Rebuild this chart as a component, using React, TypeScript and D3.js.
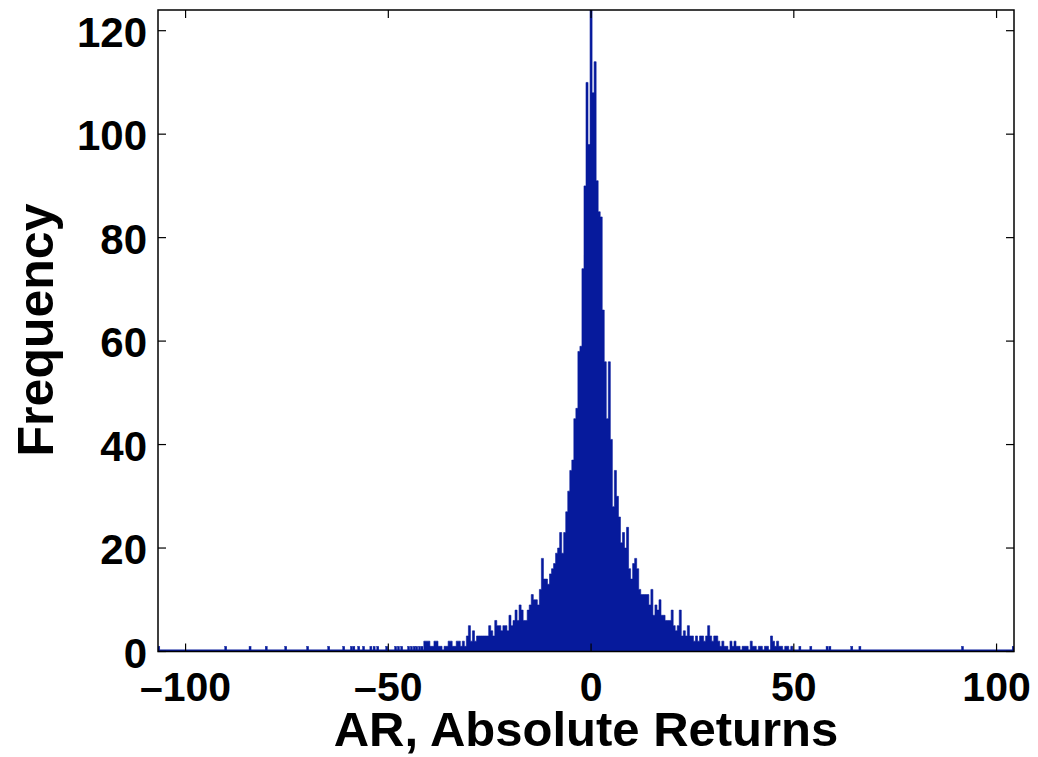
import React from "react";
import * as d3 from "d3";

// Histogram data (bin width 0.5)
const coreStart = -41; // centre of first core bin
const binWidth = 0.5;
const coreCounts = [
  2, 2, 2, 1, 1, 2, 2, 1, 1, 0, 1, 1, 2, 2, 1, 1, 2, 2, 1, 2, // -41 .. -31.5
  1, 3, 5, 2, 4, 2, 3, 3, 3, 3, 3, 3, 5, 4, 3, 6, 5, 5, 4, 5, // -31 .. -21.5
  5, 4, 7, 5, 6, 8, 6, 9, 8, 6, 6, 8, 9, 11, 10, 10, 9, 12, 18, 14, // -21 .. -11.5
  14, 13, 15, 16, 17, 19, 20, 23, 19, 23, 27, 31, 35, 37, 45, 47, 58, 59, 74, 90, // -11 .. -1.5
  110, 98, 124, 108, 114, 91, 85, 84, 66, 56, 45, 56, 41, 28, 35, 30, 26, 21, 23, 20, // -1 .. 8.5
  24, 16, 14, 17, 18, 16, 12, 11, 11, 11, 11, 9, 12, 7, 9, 8, 10, 7, 7, 6, // 9 .. 18.5
  6, 6, 8, 5, 4, 5, 8, 3, 4, 3, 5, 3, 3, 2, 3, 2, 3, 3, 2, 3, // 19 .. 28.5
  5, 3, 2, 3, 3, 2, 1, 2, 1, 1, 0, 2, 1, 2, 1, 1, 0, 1, 1, 1, // 29 .. 38.5
  0, 2, 1, 1, 0, 1, 1, 0, 1, 1, 0, 3, 2, 1, 2, 1, 1, 0, 1, 1, // 39 .. 48.5
  0, 1, // 49 .. 49.5
];
const tailCenters = [
  -106.6, -90.1, -84.1, -80.1, -75.3, -69.9, -64.7, -61, -59.1, -58.5, -57.3, -56.1,
  -54.3, -53.5, -52.6, -50.4, -48.2, -47.5, -46.7, -45, -44.3, -43.6, -43, -42.3, -41.7,
  51.5, 54.2, 58.2, 58.9, 64.3, 66.3, 91.6, 104.1,
];
const tailCounts = [
  1, 1, 1, 1, 1, 1, 1, 1, 1, 1, 1, 1,
  1, 1, 1, 1, 1, 1, 1, 1, 1, 1, 1, 1, 1,
  1, 1, 1, 1, 1, 1, 1, 1,
];
const xTicks = [-100, -50, 0, 50, 100];
const yTicks = [0, 20, 40, 60, 80, 100, 120];
const xDomain = [-106.8, 104.3];
const yDomain = [0, 124];

const W = 1038;
const H = 757;
const M = { left: 158, right: 1014, top: 10, bottom: 651.5 };
const BAR = "#061a9c";
const FONT = "'Liberation Sans', Arial, Helvetica, sans-serif";

export default function App() {
  const x = d3.scaleLinear().domain(xDomain).range([M.left, M.right]);
  const y = d3.scaleLinear().domain(yDomain).range([M.bottom, M.top]);

  // step outline of the dense core
  const edges = coreCounts.map((n, i) => ({
    e: coreStart - binWidth / 2 + i * binWidth,
    n,
  }));
  edges.push({
    e: coreStart - binWidth / 2 + coreCounts.length * binWidth,
    n: 0,
  });
  const area = d3
    .area<{ e: number; n: number }>()
    .x((d) => x(d.e))
    .y0(y(0))
    .y1((d) => y(d.n))
    .curve(d3.curveStepAfter);

  const tail = tailCenters.map((c, i) => ({ c, n: tailCounts[i] }));

  const tick = 8;
  return (
    <svg
      width={W}
      height={H}
      style={{ position: "absolute", left: 0, top: 0, background: "#fff" }}
    >
      <defs>
        <clipPath id="plot">
          <rect x={M.left} y={M.top} width={M.right - M.left} height={M.bottom - M.top} />
        </clipPath>
      </defs>
      <rect x={0} y={0} width={W} height={H} fill="#fff" />
      <g clipPath="url(#plot)">
        <path d={area(edges) || ""} fill={BAR} stroke={BAR} strokeWidth={0.6} />
        {tail.map((b, i) => {
          const x0 = x(b.c - binWidth / 2);
          const x1 = x(b.c + binWidth / 2);
          return (
            <rect
              key={i}
              x={x0}
              y={y(b.n)}
              width={x1 - x0}
              height={y(0) - y(b.n)}
              fill={BAR}
              stroke={BAR}
              strokeWidth={0.4}
            />
          );
        })}
        <line x1={M.left} x2={M.right} y1={y(0) - 1} y2={y(0) - 1} stroke={BAR} strokeWidth={2} />
      </g>
      {/* axes box */}
      <rect
        x={M.left}
        y={M.top}
        width={M.right - M.left}
        height={M.bottom - M.top}
        fill="none"
        stroke="#000"
        strokeWidth={1.5}
      />
      {xTicks.map((t) => (
        <g key={"x" + t}>
          <line x1={x(t)} x2={x(t)} y1={M.bottom} y2={M.bottom - tick} stroke="#000" strokeWidth={1.2} />
          <line x1={x(t)} x2={x(t)} y1={M.top} y2={M.top + tick} stroke="#000" strokeWidth={1.2} />
          <text
            x={x(t)}
            y={701}
            textAnchor="middle"
            fontFamily={FONT}
            fontWeight="bold"
            fontSize={41}
          >
            {t < 0 ? "\u2013" + Math.abs(t) : String(t)}
          </text>
        </g>
      ))}
      {yTicks.map((t) => (
        <g key={"y" + t}>
          <line x1={M.left} x2={M.left + tick} y1={y(t)} y2={y(t)} stroke="#000" strokeWidth={1.2} />
          <line x1={M.right} x2={M.right - tick} y1={y(t)} y2={y(t)} stroke="#000" strokeWidth={1.2} />
          <text
            x={147}
            y={y(t) + 16}
            textAnchor="end"
            fontFamily={FONT}
            fontWeight="bold"
            fontSize={42}
          >
            {t}
          </text>
        </g>
      ))}
      <text
        x={(M.left + M.right) / 2}
        y={746}
        textAnchor="middle"
        fontFamily={FONT}
        fontWeight="bold"
        fontSize={49}
      >
        AR, Absolute Returns
      </text>
      <text
        transform={`translate(53, 330) rotate(-90)`}
        textAnchor="middle"
        fontFamily={FONT}
        fontWeight="bold"
        fontSize={50}
      >
        Frequency
      </text>
    </svg>
  );
}
